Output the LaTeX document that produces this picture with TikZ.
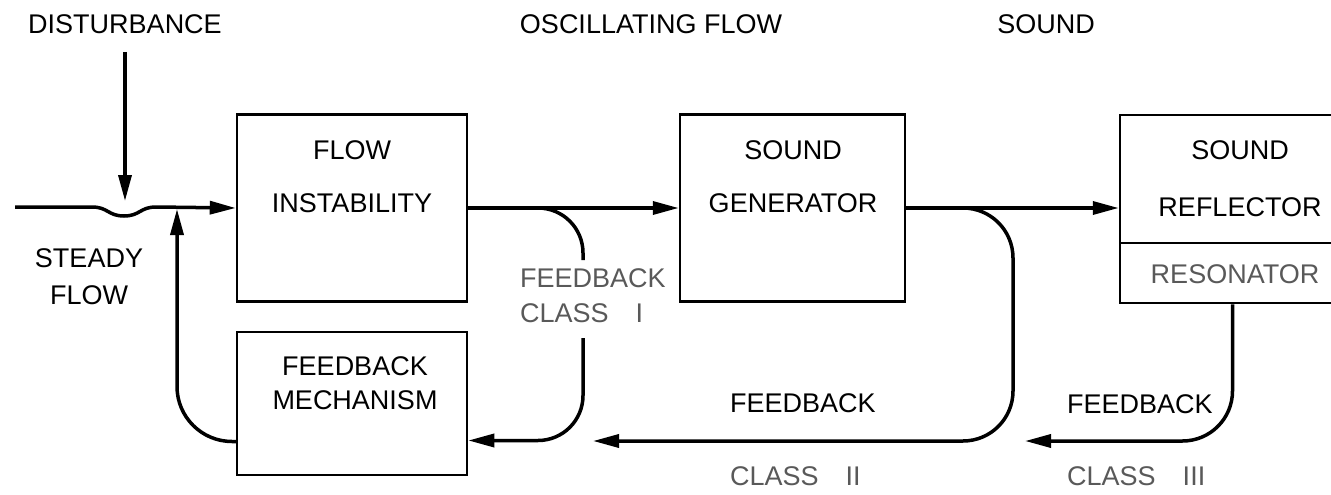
\documentclass[tikz,border=0pt]{standalone}
\usepackage{fontspec}
\setmainfont{Liberation Sans}
\usetikzlibrary{arrows.meta,calc}

\tikzset{
    blk/.style={draw, line width=2.5pt, inner sep=0pt},
    lbl/.style={align=center, inner sep=0pt, font=\fontsize{27}{53}\selectfont},
    faint/.style={text=black!65},
    flow/.style={line width=3.5pt, -{Triangle[length=26pt,width=13pt]}},
    wire/.style={line width=3.5pt},
}

\begin{document}
\begin{tikzpicture}[x=1pt, y=-1pt]
    \useasboundingbox (0,0) rectangle (1331,495);

    %Define the headings
    \node[lbl] (dist) at (125,24) {DISTURBANCE};
    \node[lbl] (osc) at (651,24) {OSCILLATING FLOW};
    \node[lbl] (snd) at (1046,24) {SOUND};

    %Define the blocks
    \node[blk, minimum width=230pt, minimum height=187pt] (fi) at (352,208) {};
    \node[lbl] (fi-lbl) at (352,177) {FLOW\\INSTABILITY};
    \node[blk, minimum width=225pt, minimum height=187pt] (sg) at (792.5,208) {};
    \node[lbl] (sg-lbl) at (793,177) {SOUND\\GENERATOR};
    \node[blk, minimum width=225pt, minimum height=128pt] (sr) at (1232.5,179) {};
    \node[lbl, font=\fontsize{27}{57}\selectfont] (sr-lbl) at (1240,178.5) {SOUND\\REFLECTOR};
    \node[blk, minimum width=225pt, minimum height=60pt] (res) at (1232.5,273) {};
    \node[lbl, faint] (res-lbl) at (1235,274) {RESONATOR};
    \node[blk, minimum width=230pt, minimum height=143pt] (fm) at (352,403.5) {};
    \node[lbl, font=\fontsize{27}{34}\selectfont] (fm-lbl) at (355,383) {FEEDBACK\\MECHANISM};

    % Add the side labels
    \node[lbl, font=\fontsize{27}{37}\selectfont] (steady) at (89,276.5) {STEADY\\FLOW};
    \node[lbl, faint, align=left, anchor=west, font=\fontsize{27}{35}\selectfont] (fb1) at (520,295.5) {FEEDBACK\\CLASS\quad I};
    \node[lbl, anchor=west] (fb2) at (730,403) {FEEDBACK};
    \node[lbl, faint, anchor=west] (cl2) at (730,476) {CLASS\quad II};
    \node[lbl, anchor=west] (fb3) at (1067,404) {FEEDBACK};
    \node[lbl, faint, anchor=west] (cl3) at (1067,476) {CLASS\quad III};

    % Add the free ends
    \coordinate (sf) at (15,207);
    \coordinate (dip) at (125,201);
    \coordinate (merge) at (177,209);
    \coordinate (c1a) at (583,260);
    \coordinate (c1b) at (583,338);
    \coordinate (c2end) at (593,441);
    \coordinate (c3end) at (1025,441);

    % Add the steady flow with the disturbance
    \draw[flow] (sf) -- (92,207) .. controls (108,207) and (108,216) .. (124,216)
        .. controls (140,216) and (140,207) .. (156,207) -- (fi.west);
    \draw[flow] ([yshift=-18pt]dist.south) -- (dip);

    % Add the forward path
    \draw[flow] (fi.east) -- (sg.west);
    \draw[flow] (sg.east) -- (sg.east -| sr.west);

    % Add the feedback loops
    \draw[flow, rounded corners=55pt] ([yshift=-38pt]fm.west) -| (merge);
    \draw[wire, rounded corners=45pt] ($(fi.east)!0.33!(sg.west)$) -| (c1a);
    \draw[flow, rounded corners=45pt] (c1b) |- ([yshift=-37pt]fm.east);
    \draw[flow, rounded corners=50pt] (sg.east) -| (1013,441) -- (c2end);
    \draw[flow, rounded corners=50pt] (res.south) |- (c3end);
\end{tikzpicture}
\end{document}
